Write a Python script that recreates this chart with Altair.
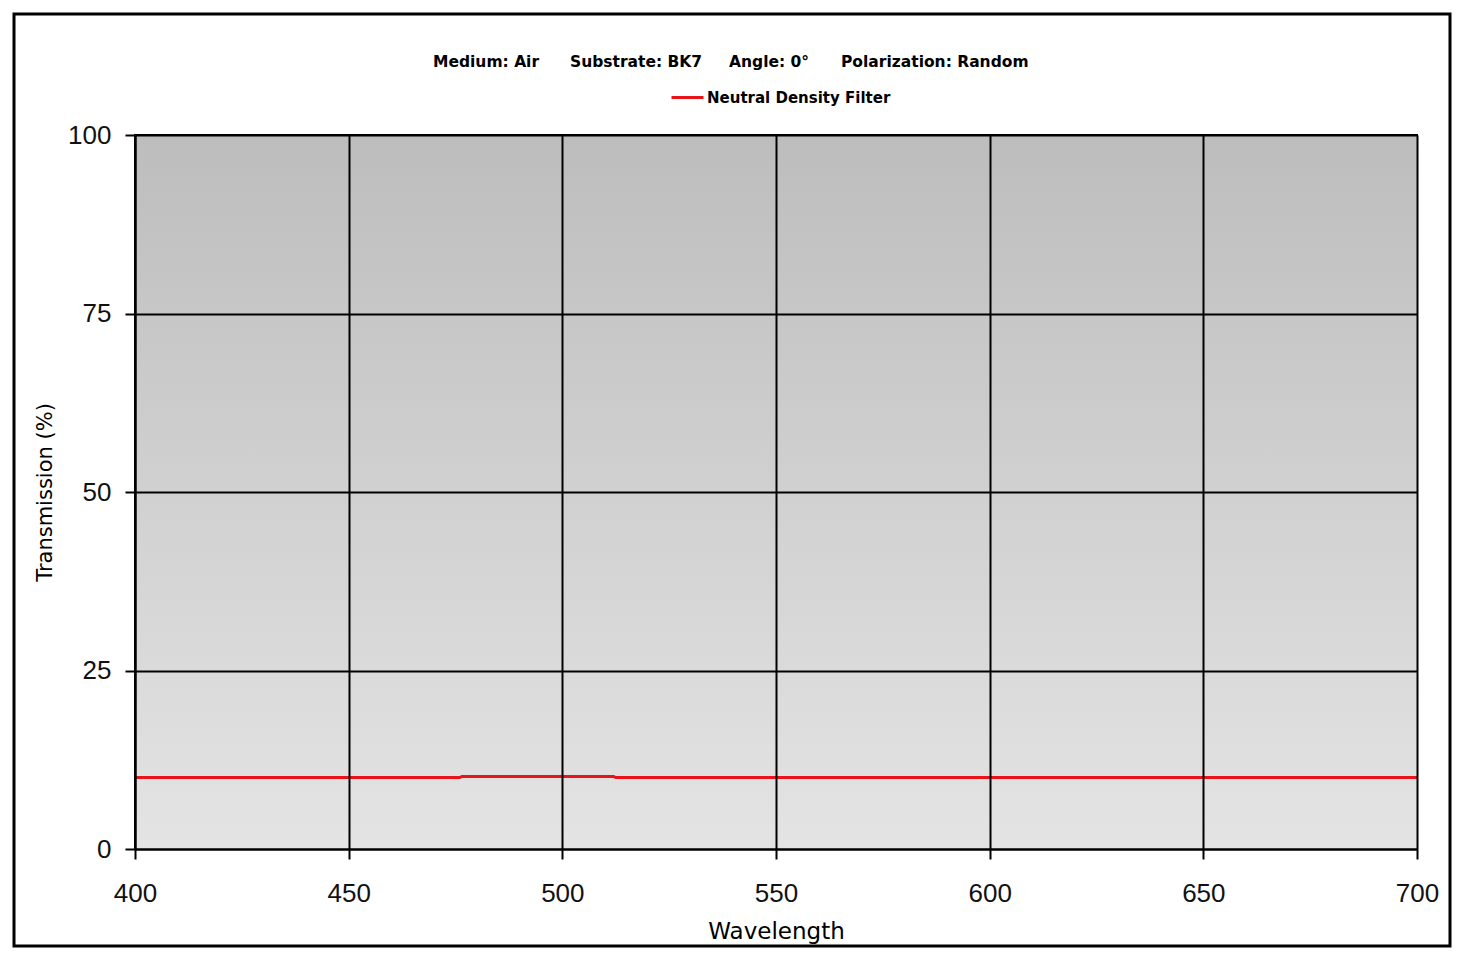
import altair as alt
import pandas as pd

# ---- data ----
wavelength = [400, 476, 476.5, 512, 512.5, 700]
transmission = [10.0, 10.0, 10.15, 10.15, 10.0, 10.0]
series_name = "Neutral Density Filter"
x_ticks = [400, 450, 500, 550, 600, 650, 700]
y_ticks = [0, 25, 50, 75, 100]
header_labels = ["Medium: Air", "Substrate: BK7", "Angle: 0°", "Polarization: Random"]

W, H = 1282, 714
HEAD_FONT = "DejaVu Sans"

df = pd.DataFrame({"Wavelength": wavelength, "Transmission": transmission,
                   "series": [series_name] * len(wavelength)})
dummy = alt.Data(values=[{"a": 1}])

bg = alt.Chart(dummy).mark_rect(
    color=alt.Gradient(gradient="linear", x1=0, x2=0, y1=0, y2=1,
                       stops=[alt.GradientStop(color="#bdbdbd", offset=0),
                              alt.GradientStop(color="#e4e4e4", offset=1)])
).encode(x=alt.value(0), x2=alt.value(W), y=alt.value(0), y2=alt.value(H))

line = alt.Chart(df).mark_line(strokeWidth=3, interpolate="linear").encode(
    x=alt.X("Wavelength:Q", scale=alt.Scale(domain=[400, 700], nice=False, zero=False),
            axis=alt.Axis(values=x_ticks, title="Wavelength", grid=True, zindex=1,
                          labelFlush=False, labelOverlap=False)),
    y=alt.Y("Transmission:Q", scale=alt.Scale(domain=[0, 100], nice=False),
            axis=alt.Axis(values=y_ticks, title="Transmission (%)", grid=True, zindex=1,
                          labelFlush=False, labelOverlap=False)),
    color=alt.Color("series:N", scale=alt.Scale(range=["#e8141a"]),
                    legend=alt.Legend(orient="none", legendX=535, legendY=-55, title=None,
                                      symbolType="stroke", symbolSize=1024,
                                      symbolStrokeWidth=3, padding=0, labelOffset=2,
                                      labelFont=HEAD_FONT, labelFontSize=15,
                                      labelFontWeight="bold", labelLimit=0,
                                      labelColor="black")),
)

header_x = [298, 435, 594, 706]
headers = [
    alt.Chart(dummy).mark_text(text=t, align="left", baseline="middle", font=HEAD_FONT,
                               fontSize=15.5, fontWeight="bold", color="black")
    .encode(x=alt.value(hx), y=alt.value(-73))
    for t, hx in zip(header_labels, header_x)
]

frame = alt.Chart(dummy).mark_rect(fillOpacity=0, stroke="black", strokeWidth=3).encode(
    x=alt.value(-121), x2=alt.value(1315), y=alt.value(-121), y2=alt.value(811))

chart = alt.layer(bg, line, frame, *headers).properties(
    width=W, height=H,
    autosize=alt.AutoSizeParams(type="none"),
    padding={"left": 127, "top": 127, "right": 37, "bottom": 100},
    background="white",
).configure_view(stroke="black", strokeWidth=2).configure_axis(
    zindex=1,
    domainColor="black", domainWidth=2,
    tickColor="black", tickWidth=2, tickSize=10,
    gridColor="black", gridWidth=2, gridOpacity=1,
    labelFont="Liberation Sans", labelFontSize=26, labelColor="#111111",
    titleFont=HEAD_FONT, titleFontWeight="normal", titleColor="black",
).configure_axisX(
    labelPadding=21, titleFontSize=23, titlePadding=14,
).configure_axisY(
    labelPadding=14, titleFontSize=21, titlePadding=12,
)

chart.save("out.html", embed_options={"renderer": "svg", "actions": False})
